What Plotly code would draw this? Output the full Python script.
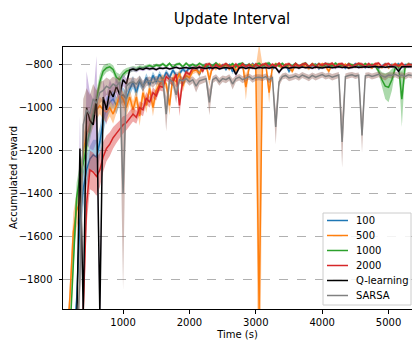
import plotly.graph_objects as go

# time axis (s)
time_s = list(range(100, 5400, 50))

# ---- series means (accumulated reward) ----
r100 = [
    -2100, -2100, -2100, -2100, -1900, -1520, -1380, -1290, -1240, -1220,
    -1230, -1160, -1060, -1000, -975, -960, -990, -950, -940, -960,
    -915, -880, -930, -875, -905, -860, -895, -850, -880, -845,
    -870, -835, -860, -825, -850, -842, -820, -835, -812, -818,
    -812, -845, -805, -798, -818, -803, -796, -814, -801, -822,
    -800, -832, -806, -797, -815, -802, -818, -795, -808, -816,
    -799, -813, -797, -820, -804, -798, -815, -801, -830, -806,
    -797, -815, -803, -796, -812, -805, -798, -818, -802, -795,
    -808, -797, -814, -799, -803, -816, -798, -809, -796, -811,
    -800, -813, -797, -810, -799, -816, -804, -796, -812, -799,
    -805, -796, -812, -800, -808, -797,
]
r500 = [
    -2100, -2100, -1880, -1580, -1480, -1440, -1200, -1130, -1080, -1040,
    -1010, -990, -1010, -1020, -1000, -1030, -990, -940, -960, -1000,
    -950, -1010, -950, -1040, -930, -990, -910, -1000, -920, -890,
    -870, -890, -990, -860, -880, -840, -900, -850, -860, -830,
    -825, -840, -812, -800, -870, -806, -818, -798, -812, -802,
    -820, -800, -830, -806, -798, -905, -812, -799, -820, -1950,
    -806, -797, -930, -812, -796, -805, -815, -799, -812, -830,
    -798, -814, -800, -808, -818, -797, -803, -813, -796, -809,
    -830, -799, -812, -797, -810, -798, -815, -801, -810, -796,
    -812, -798, -806, -815, -797, -808, -813, -798, -814, -803,
    -797, -811, -799, -812, -800, -808,
]
r1000 = [
    -2100, -2100, -2050, -1700, -1420, -1320, -1260, -1180, -1100, -1030,
    -960, -880, -830, -815, -810, -822, -860, -870, -845, -830,
    -825, -818, -822, -812, -815, -808, -804, -810, -802, -806,
    -796, -808, -794, -812, -799, -795, -810, -793, -806, -798,
    -808, -794, -803, -811, -796, -806, -792, -805, -810, -797,
    -806, -795, -810, -798, -793, -808, -797, -809, -800, -794,
    -807, -796, -792, -810, -798, -805, -794, -809, -797, -806,
    -794, -808, -799, -793, -809, -797, -806, -795, -811, -799,
    -797, -807, -793, -805, -799, -810, -795, -802, -808, -796,
    -806, -795, -809, -798, -806, -830, -870, -900, -905, -870,
    -815, -804, -960, -810, -797, -803,
]
r2000 = [
    -2100, -2100, -2100, -2100, -2100, -2100, -1950, -1450, -1290, -1300,
    -1320, -1290, -1230, -1190, -1170, -1140, -1120, -1100, -1080, -1070,
    -1050, -1030, -1045, -1000, -1010, -955, -975, -930, -945, -900,
    -905, -855, -870, -880, -845, -990, -870, -835, -845, -815,
    -818, -808, -830, -800, -796, -820, -799, -812, -804, -795,
    -808, -814, -797, -815, -796, -810, -800, -815, -797, -809,
    -800, -795, -812, -798, -808, -793, -811, -800, -796, -812,
    -795, -808, -799, -794, -810, -797, -813, -796, -803, -794,
    -801, -793, -810, -798, -795, -809, -797, -812, -800, -794,
    -798, -810, -795, -806, -797, -793, -810, -799, -795, -808,
    -797, -806, -793, -809, -798, -801,
]
q_learning = [
    -2100, -2100, -2100, -2100, -2050, -1190, -1950, -1000, -1060, -1080,
    -960, -1960, -950, -1010, -920, -950, -900, -940, -870, -890,
    -825, -820, -826, -818, -822, -815, -820, -817, -823, -815,
    -818, -814, -820, -816, -812, -818, -815, -813, -817, -814,
    -816, -812, -815, -818, -813, -816, -812, -820, -815, -813,
    -816, -814, -845, -815, -812, -817, -813, -815, -818, -812,
    -815, -813, -816, -812, -814, -835, -815, -812, -816, -813,
    -812, -815, -811, -814, -812, -816, -811, -813, -815, -812,
    -811, -814, -812, -810, -813, -811, -815, -812, -810, -813,
    -811, -809, -812, -810, -808, -811, -809, -812, -810, -808,
    -811, -830, -809, -810, -808, -810,
]
sarsa = [
    -2100, -2100, -2100, -2100, -2100, -1800, -1080, -1010, -1030, -960,
    -980, -930, -920, -900, -910, -890, -900, -880, -1400, -900,
    -885, -880, -890, -870, -900, -880, -875, -885, -870, -880,
    -875, -1030, -870, -880, -940, -870, -875, -865, -880, -870,
    -900, -875, -870, -865, -975, -870, -860, -880, -865, -870,
    -860, -890, -865, -858, -870, -862, -855, -868, -860, -858,
    -862, -855, -870, -860, -1090, -880, -855, -850, -862, -858,
    -852, -860, -848, -855, -862, -850, -858, -852, -846, -855,
    -850, -858, -852, -848, -1160, -855, -850, -847, -853, -849,
    -1130, -852, -848, -855, -850, -845, -852, -858, -848, -850,
    -845, -852, -848, -855, -847, -850,
]

# ---- spread (std) of each series ----
s100 = [
    10, 10, 10, 10, 60, 100, 90, 70, 60, 70,
    80, 70, 60, 50, 45, 40, 40, 35, 35, 30,
    30, 28, 25, 25, 22, 20, 20, 18, 18, 16,
    15, 14, 14, 12, 12, 12, 10, 10, 10, 9,
    8, 15, 8, 7, 9, 8, 7, 8, 7, 9,
    7, 12, 8, 7, 8, 7, 9, 7, 8, 8,
    7, 8, 7, 9, 7, 7, 8, 7, 12, 8,
    7, 8, 7, 7, 8, 7, 7, 9, 7, 7,
    8, 7, 8, 7, 7, 8, 7, 8, 7, 7,
    7, 8, 7, 8, 7, 8, 7, 7, 8, 7,
    7, 7, 8, 7, 7, 7,
]
s500 = [
    10, 10, 80, 90, 80, 70, 70, 60, 50, 50,
    45, 40, 45, 50, 40, 45, 40, 35, 35, 40,
    35, 40, 35, 45, 30, 35, 30, 40, 30, 30,
    25, 25, 45, 20, 25, 18, 30, 20, 20, 15,
    12, 15, 10, 9, 30, 8, 10, 8, 9, 7,
    10, 8, 12, 8, 7, 60, 9, 8, 10, 1250,
    8, 7, 50, 9, 7, 8, 8, 7, 9, 12,
    8, 7, 8, 7, 9, 8, 7, 8, 7, 8,
    12, 7, 8, 7, 8, 7, 8, 7, 8, 7,
    8, 7, 8, 7, 8, 7, 8, 7, 8, 7,
    7, 8, 7, 8, 7, 8,
]
s1000 = [
    10, 10, 10, 80, 70, 60, 60, 55, 50, 45,
    40, 35, 25, 20, 18, 20, 25, 25, 20, 15,
    14, 12, 12, 10, 10, 9, 8, 9, 8, 8,
    7, 7, 7, 7, 7, 7, 7, 7, 7, 7,
    7, 7, 7, 7, 7, 7, 7, 7, 7, 7,
    7, 7, 7, 7, 7, 7, 7, 7, 7, 7,
    7, 7, 7, 7, 7, 7, 7, 7, 7, 7,
    7, 7, 7, 7, 7, 7, 7, 7, 7, 7,
    7, 7, 7, 7, 7, 7, 7, 7, 7, 7,
    7, 7, 7, 7, 8, 15, 35, 60, 70, 50,
    15, 10, 130, 12, 8, 7,
]
s2000 = [
    10, 10, 10, 10, 10, 10, 80, 100, 90, 90,
    90, 80, 70, 60, 55, 50, 45, 40, 40, 35,
    35, 35, 30, 30, 30, 28, 25, 25, 22, 20,
    20, 18, 15, 18, 15, 50, 15, 12, 10, 10,
    9, 8, 12, 8, 7, 10, 7, 8, 8, 7,
    8, 7, 8, 7, 8, 7, 8, 7, 8, 7,
    8, 7, 8, 7, 8, 7, 8, 7, 8, 7,
    8, 7, 8, 7, 8, 7, 8, 7, 8, 7,
    8, 7, 8, 7, 8, 7, 8, 7, 8, 7,
    8, 7, 8, 7, 8, 7, 8, 7, 8, 7,
    8, 7, 8, 7, 8, 7,
]
s_q = [
    10, 10, 10, 10, 10, 150, 100, 170, 130, 120,
    200, 150, 80, 70, 50, 45, 40, 40, 30, 25,
    12, 10, 10, 8, 9, 8, 8, 7, 8, 7,
    6, 6, 6, 6, 6, 6, 6, 6, 6, 6,
    6, 6, 6, 6, 6, 6, 6, 6, 6, 6,
    6, 6, 15, 6, 6, 6, 6, 6, 6, 6,
    6, 6, 6, 6, 6, 12, 6, 6, 6, 6,
    6, 6, 6, 6, 6, 6, 6, 6, 6, 6,
    6, 6, 6, 6, 6, 6, 6, 6, 6, 6,
    6, 6, 6, 6, 6, 6, 6, 6, 6, 6,
    6, 12, 6, 6, 6, 6,
]
s_sarsa = [
    10, 10, 10, 10, 10, 150, 120, 100, 90, 70,
    60, 50, 45, 40, 40, 35, 35, 30, 450, 35,
    25, 22, 25, 20, 25, 20, 20, 22, 18, 20,
    18, 80, 18, 20, 40, 18, 18, 16, 18, 16,
    30, 18, 16, 16, 60, 16, 15, 18, 15, 16,
    15, 25, 15, 15, 16, 15, 14, 16, 15, 14,
    15, 14, 16, 15, 80, 20, 14, 14, 15, 14,
    14, 15, 14, 14, 15, 14, 15, 14, 13, 14,
    14, 15, 14, 14, 120, 14, 14, 13, 14, 13,
    80, 14, 13, 14, 14, 13, 14, 15, 13, 14,
    13, 14, 13, 14, 13, 14,
]

series_names = ["100", "500", "1000", "2000", "Q-learning", "SARSA"]
series_means = [r100, r500, r1000, r2000, q_learning, sarsa]
series_stds = [s100, s500, s1000, s2000, s_q, s_sarsa]
line_colors = ["#1f77b4", "#ff7f0e", "#2ca02c", "#d62728", "#000000", "#808080"]
band_colors = ["rgba(31,119,180,0.4)", "rgba(255,127,14,0.4)", "rgba(44,160,44,0.4)",
               "rgba(214,39,40,0.4)", "rgba(148,103,189,0.45)", "rgba(140,86,75,0.4)"]

fig = go.Figure()
for name, mean, std, col, band in zip(series_names, series_means, series_stds,
                                      line_colors, band_colors):
    upper = [m + s for m, s in zip(mean, std)]
    lower = [m - s for m, s in zip(mean, std)]
    fig.add_trace(go.Scatter(x=time_s, y=upper, mode="lines", line=dict(width=0),
                             showlegend=False, hoverinfo="skip"))
    fig.add_trace(go.Scatter(x=time_s, y=lower, mode="lines", line=dict(width=0),
                             fill="tonexty", fillcolor=band, showlegend=False, hoverinfo="skip"))
    fig.add_trace(go.Scatter(x=time_s, y=mean, mode="lines", name=name, showlegend=False,
                             line=dict(color=col, width=1.5)))

# ---- manual legend (pixel layout -> paper coords) ----
L, R, T, B = 63, 412, 47, 309


def px_x(p):
    return (p - L) / (R - L)


def px_y(p):
    return (B - p) / (B - T)


shapes = [dict(type="rect", xref="paper", yref="paper",
               x0=px_x(323), x1=px_x(411), y0=px_y(305), y1=px_y(213),
               line=dict(color="#cccccc", width=1), fillcolor="rgba(255,255,255,0.85)",
               layer="above")]
annotations = []
for k, (name, col) in enumerate(zip(series_names, line_colors)):
    yc = 220.5 + 15 * k
    shapes.append(dict(type="line", xref="paper", yref="paper",
                       x0=px_x(327), x1=px_x(348), y0=px_y(yc), y1=px_y(yc),
                       line=dict(color=col, width=1.5), layer="above"))
    annotations.append(dict(text=name, xref="paper", yref="paper", x=px_x(354), y=px_y(yc),
                            xanchor="left", yanchor="middle", showarrow=False,
                            font=dict(size=10, color="black")))

# y-axis title as rotated text
annotations.append(dict(text="Accumulated reward", xref="paper", yref="paper",
                        x=px_x(13), y=px_y(178), xanchor="center", yanchor="middle",
                        textangle=-90, showarrow=False, font=dict(size=10, color="black")))

fig.update_layout(
    width=412, height=343,
    margin=dict(l=L, r=0, t=T, b=343 - B),
    paper_bgcolor="white", plot_bgcolor="white",
    font=dict(family="DejaVu Sans", size=10, color="black"),
    title=dict(text="Update Interval", x=232 / 412, xref="container", xanchor="center",
               y=1 - 19 / 343, yref="container", yanchor="middle",
               font=dict(size=15, color="black")),
    showlegend=False,
    shapes=shapes,
    annotations=annotations,
)
fig.update_xaxes(range=[95, 5353], tickvals=[1000, 2000, 3000, 4000, 5000],
                 ticks="outside", ticklen=3.5, tickcolor="black", showline=True,
                 linecolor="black", linewidth=1, mirror=True, showgrid=False, zeroline=False,
                 title=dict(text="Time (s)", font=dict(size=10), standoff=4))
fig.update_yaxes(range=[-1938, -717.5], tickvals=[-1800, -1600, -1400, -1200, -1000, -800],
                 ticks="outside", ticklen=3.5, tickcolor="black", showline=True,
                 linecolor="black", linewidth=1, mirror=False, showgrid=True,
                 gridcolor="#b0b0b0", griddash="dash", gridwidth=1, zeroline=False,
                 ticklabelstandoff=4)

fig.write_html("out.html")
